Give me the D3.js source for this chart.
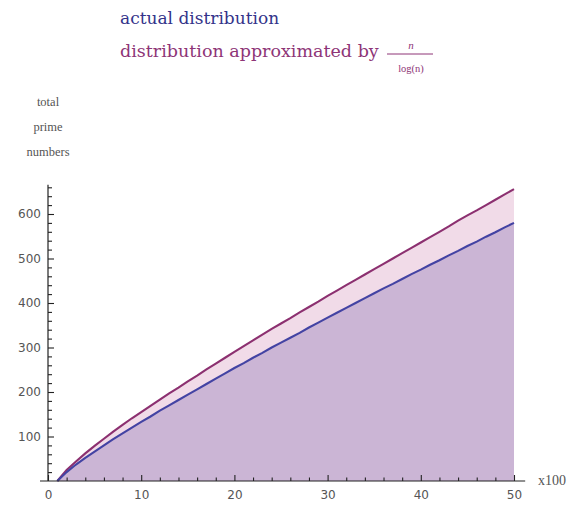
<!DOCTYPE html>
<html><head><meta charset="utf-8">
<script src="https://cdn.jsdelivr.net/npm/d3@7/dist/d3.min.js"></script>
<style>body{margin:0;background:#fff}svg{display:block}</style>
</head><body><svg id="c" width="575" height="508"></svg>
<script>
// x values in hundreds
const xValues = [1,2,3,4,5,6,7,8,9,10,11,12,13,14,15,16,17,18,19,20,21,22,23,24,25,26,27,28,29,30,31,32,33,34,35,36,37,38,39,40,41,42,43,44,45,46,47,48,49,50];
// upper (purple) curve
const approxSeries = [0,25,44,62,79,95,111,126,141,155,169,183,197,210,224,237,251,264,277,290,303,316,329,342,354,366,379,391,403,416,428,440,452,464,476,488,500,512,524,536,548,560,572,585,597,608,620,632,644,656];
// lower (blue) curve
const actualSeries = [0,20,37,52,66,80,94,107,120,133,145,158,170,182,194,206,218,230,242,254,265,277,288,300,311,322,333,345,356,367,378,389,400,411,422,433,443,454,465,475,486,496,507,517,528,538,549,559,570,580];
const yTickValues = [100,200,300,400,500,600];
const yMinorTicks = [20,40,60,80,120,140,160,180,220,240,260,280,320,340,360,380,420,440,460,480,520,540,560,580,620,640,660];
const xTickValues = [0,10,20,30,40,50];
const xMinorTicks = [2,4,6,8,12,14,16,18,22,24,26,28,32,34,36,38,42,44,46,48];
const legendActual = "actual distribution";
const legendApprox = "distribution approximated by";
const yTitleLines = ["total","prime","numbers"];
const xUnitLabel = "x100";

const svg = d3.select("#c");
const x = d3.scaleLinear().domain([0,50]).range([48,514]);
const y = d3.scaleLinear().domain([0,600]).range([481,214]);

const data = xValues.map((v,i)=>({x:v, a:actualSeries[i], p:approxSeries[i]}));

// areas
svg.append("path").datum(data)
  .attr("d", d3.area().x(d=>x(d.x)).y0(y(0)).y1(d=>y(d.p)))
  .attr("fill","#f1dbe8");
svg.append("path").datum(data)
  .attr("d", d3.area().x(d=>x(d.x)).y0(y(0)).y1(d=>y(d.a)))
  .attr("fill","#cbb5d5");

// lines
svg.append("path").datum(data)
  .attr("d", d3.line().x(d=>x(d.x)).y(d=>y(d.p)))
  .attr("fill","none").attr("stroke","#8c3070").attr("stroke-width",2.1);
svg.append("path").datum(data)
  .attr("d", d3.line().x(d=>x(d.x)).y(d=>y(d.a)))
  .attr("fill","none").attr("stroke","#4343a3").attr("stroke-width",2.1);

// y axis
const gy = svg.append("g").attr("transform",`translate(${x(0)},0)`);
gy.call(d3.axisLeft(y).tickValues(yTickValues).tickSize(-6).tickPadding(7));
gy.select(".domain").remove();
const gym = svg.append("g").attr("transform",`translate(${x(0)},0)`);
gym.call(d3.axisLeft(y).tickValues(yMinorTicks).tickSize(-4).tickFormat(""));
gym.select(".domain").remove();
svg.append("line").attr("x1",x(0)).attr("x2",x(0)).attr("y1",y(0)).attr("y2",y(666))
  .attr("stroke","#222").attr("stroke-width",1.2);

// x axis
const gx = svg.append("g").attr("transform",`translate(0,${y(0)})`);
gx.call(d3.axisBottom(x).tickValues(xTickValues).tickSize(-6).tickPadding(9));
gx.select(".domain").remove();
const gxm = svg.append("g").attr("transform",`translate(0,${y(0)})`);
gxm.call(d3.axisBottom(x).tickValues(xMinorTicks).tickSize(-3.5).tickFormat(""));
gxm.select(".domain").remove();
svg.append("line").attr("x1",x(0)-8).attr("x2",x(51.2)).attr("y1",y(0)).attr("y2",y(0))
  .attr("stroke","#222").attr("stroke-width",1.2);

svg.selectAll(".tick line").attr("stroke","#222").attr("stroke-width",1.1);
svg.selectAll(".tick text").attr("font-family","DejaVu Sans").attr("font-size",12).attr("fill","#555");

// x unit
svg.append("text").attr("x",538).attr("y",485).text(xUnitLabel)
  .attr("font-family","Liberation Serif").attr("font-size",14).attr("fill","#555");

// y title
yTitleLines.forEach((t,i)=>{
  svg.append("text").attr("x",48).attr("y",106+i*25).attr("text-anchor","middle").text(t)
    .attr("font-family","Liberation Serif").attr("font-size",12.5).attr("fill","#555");
});

// legend
svg.append("text").attr("x",120).attr("y",24).text(legendActual)
  .attr("font-family","DejaVu Serif").attr("font-size",17).attr("fill","#33338a");
svg.append("text").attr("x",120).attr("y",57).text(legendApprox)
  .attr("font-family","DejaVu Serif").attr("font-size",17.5).attr("fill","#8e3577");
svg.append("line").attr("x1",387).attr("x2",433).attr("y1",54).attr("y2",54)
  .attr("stroke","#8e3577").attr("stroke-width",1);
svg.append("text").attr("x",411).attr("y",49).attr("text-anchor","middle").text("n")
  .attr("font-family","Liberation Serif").attr("font-style","italic").attr("font-size",11).attr("fill","#8e3577");
svg.append("text").attr("x",411).attr("y",72).attr("text-anchor","middle").text("log(n)")
  .attr("font-family","Liberation Serif").attr("font-size",10.5).attr("fill","#8e3577");
</script>
</body></html>
